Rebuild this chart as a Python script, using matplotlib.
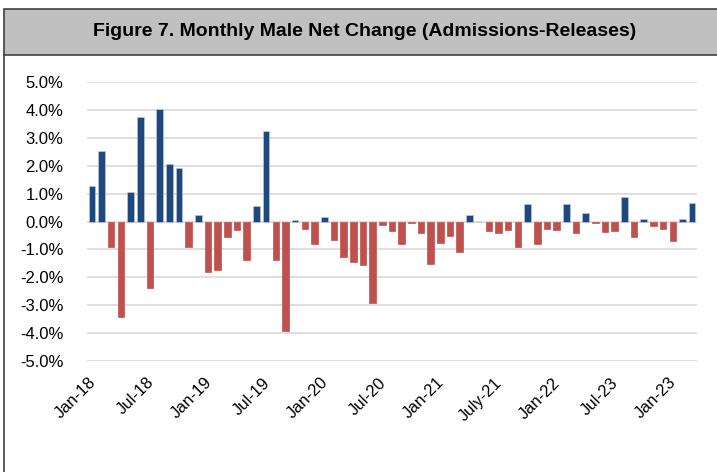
import numpy as np
import matplotlib.pyplot as plt
import matplotlib.transforms as mtransforms
from matplotlib.patches import Rectangle

# Monthly male net change, Jan-18 .. Mar-23 (percent)
net_change = [
    1.28, 2.51, -0.91, -3.44, 1.05, 3.75, -2.38, 4.03, 2.07, 1.90, -0.91, 0.25,
    -1.80, -1.73, -0.55, -0.30, -1.37, 0.56, 3.24, -1.37, -3.92, 0.07, -0.26, -0.79,
    0.17, -0.65, -1.27, -1.45, -1.55, -2.92, -0.12, -0.33, -0.79, -0.05, -0.41, -1.52,
    -0.76, -0.51, -1.09, 0.24, 0.0, -0.33, -0.41, -0.30, -0.91, 0.63, -0.80, -0.26,
    -0.30, 0.62, -0.41, 0.31, -0.04, -0.37, -0.33, 0.88, -0.55, 0.08, -0.16, -0.26,
    -0.69, 0.10, 0.67,
]
tick_labels = ['Jan-18', 'Jul-18', 'Jan-19', 'Jul-19', 'Jan-20', 'Jul-20',
               'Jan-21', 'July-21', 'Jan-22', 'Jul-23', 'Jan-23']
y_ticks = [5, 4, 3, 2, 1, 0, -1, -2, -3, -4, -5]

plt.rcParams['font.family'] = ['Liberation Sans', 'DejaVu Sans']

fig = plt.figure(figsize=(7.17, 4.72), dpi=100)

# title box and left border
fig.patches.append(Rectangle((4 / 717, 1 - 55 / 472), 1.02, 46 / 472, transform=fig.transFigure,
                             facecolor='#c0c0c0', edgecolor='#404040', linewidth=1.2))
fig.add_artist(plt.Line2D([4 / 717, 4 / 717], [0, 1 - 55 / 472], transform=fig.transFigure,
                          color='#404040', linewidth=1.2))
fig.text(365 / 717, 1 - 32 / 472, 'Figure 7. Monthly Male Net Change (Admissions-Releases)',
         ha='center', va='center', fontsize=14, fontweight='bold')

ax = fig.add_axes([87 / 717, 1 - 361 / 472, 610 / 717, 279 / 472])

x = np.arange(len(net_change))
vals = np.array(net_change)
colors = ['#1F497D' if v >= 0 else '#C0504D' for v in vals]
edges = ['#b8c8dc' if v >= 0 else '#C0504D' for v in vals]
ax.bar(x, vals, width=0.68, color=colors, edgecolor=edges, linewidth=0.5, zorder=3)

ax.set_xlim(-0.5, len(net_change) - 0.5)
ax.set_ylim(-5, 5)
ax.set_yticks(y_ticks)
ax.set_yticklabels([f'{t:.1f}%' for t in y_ticks], fontsize=12)
ax.set_xticks(np.arange(0, len(net_change), 6))
ax.set_xticklabels(tick_labels, fontsize=12, rotation=45, ha='right', rotation_mode='anchor')
ax.tick_params(axis='y', length=0, pad=17)
ax.tick_params(axis='x', length=0, pad=10)
shift = mtransforms.ScaledTranslation(-4 / 100, 0, fig.dpi_scale_trans)
for lbl in ax.get_xticklabels():
    lbl.set_transform(lbl.get_transform() + shift)
ax.grid(axis='y', color='#d9d9d9', linewidth=1.2, zorder=0)
for s in ax.spines.values():
    s.set_visible(False)

fig.savefig('out.png', dpi=100)
